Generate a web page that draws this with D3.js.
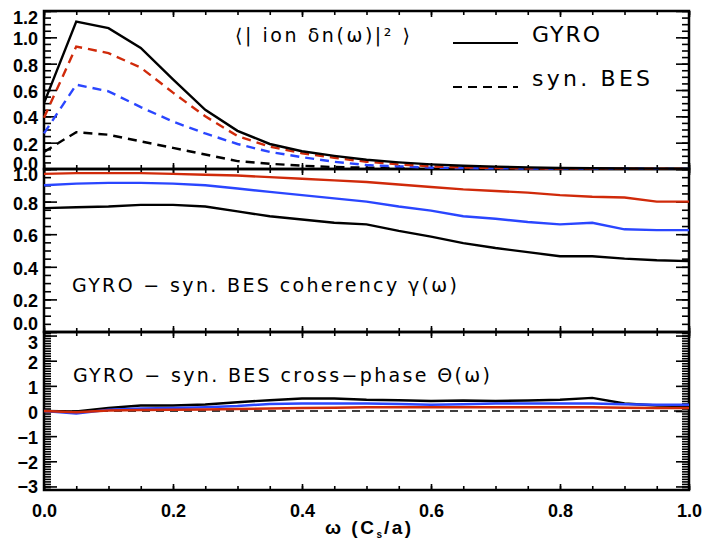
<!DOCTYPE html>
<html>
<head>
<meta charset="utf-8">
<script src="https://cdn.jsdelivr.net/npm/d3@7"></script>
<style>
  body { margin: 0; background: #fff; }
  svg { display: block; }
  .tick text { font-family: "Liberation Sans", Arial, sans-serif; font-weight: bold; font-size: 18px; fill: #000; }
  .ann { font-family: "DejaVu Sans", sans-serif; font-size: 19px; fill: #000; }
</style>
</head>
<body>
<div id="chart"></div>
<script>
// frequency grid (omega in c_s/a)
var omega = [0, 0.05, 0.1, 0.15, 0.2, 0.25, 0.3, 0.35, 0.4, 0.45, 0.5,
             0.55, 0.6, 0.65, 0.7, 0.75, 0.8, 0.85, 0.9, 0.95, 1.0];

// top panel: ion density spectrum
var specGyro     = [0.50, 1.12, 1.07, 0.92, 0.68, 0.45, 0.29, 0.19, 0.135, 0.10, 0.07, 0.05, 0.035, 0.025, 0.018, 0.012, 0.008, 0.006, 0.004, 0.003, 0.002];
var specBesRed   = [0.39, 0.93, 0.88, 0.77, 0.58, 0.40, 0.25, 0.17, 0.12, 0.085, 0.055, 0.035, 0.02, 0.012, 0.008, 0.005, 0.004, 0.003, 0.002, 0.002, 0.001];
var specBesBlue  = [0.27, 0.64, 0.59, 0.47, 0.36, 0.27, 0.19, 0.13, 0.09, 0.055, 0.03, 0.02, 0.01, 0.007, 0.005, 0.004, 0.003, 0.002, 0.002, 0.001, 0.001];
var specBesBlack = [0.13, 0.28, 0.26, 0.21, 0.16, 0.11, 0.06, 0.04, 0.025, 0.015, 0.01, 0.007, 0.005, 0.004, 0.003, 0.002, 0.002, 0.001, 0.001, 0.001, 0.001];

// middle panel: coherency
var cohBlack = [0.76, 0.765, 0.77, 0.78, 0.78, 0.77, 0.74, 0.71, 0.69, 0.67, 0.66, 0.62, 0.585, 0.545, 0.515, 0.49, 0.465, 0.465, 0.45, 0.44, 0.435];
var cohBlue  = [0.90, 0.91, 0.915, 0.915, 0.91, 0.90, 0.88, 0.86, 0.84, 0.82, 0.80, 0.77, 0.745, 0.71, 0.695, 0.675, 0.66, 0.67, 0.63, 0.625, 0.625];
var cohRed   = [0.97, 0.975, 0.975, 0.975, 0.97, 0.965, 0.96, 0.95, 0.94, 0.93, 0.92, 0.905, 0.89, 0.875, 0.865, 0.855, 0.84, 0.83, 0.825, 0.80, 0.80];

// bottom panel: cross-phase
var phBlack = [0.0, -0.02, 0.12, 0.22, 0.22, 0.26, 0.35, 0.43, 0.5, 0.5, 0.45, 0.43, 0.4, 0.42, 0.4, 0.42, 0.45, 0.52, 0.3, 0.22, 0.2];
var phBlue  = [0.0, -0.1, 0.05, 0.1, 0.12, 0.15, 0.2, 0.28, 0.3, 0.3, 0.3, 0.28, 0.25, 0.27, 0.3, 0.3, 0.3, 0.3, 0.27, 0.25, 0.25];
var phRed   = [0.0, -0.05, 0.02, 0.04, 0.05, 0.06, 0.08, 0.1, 0.12, 0.13, 0.15, 0.15, 0.15, 0.15, 0.15, 0.15, 0.15, 0.15, 0.13, 0.12, 0.12];

var xTicks = [0, 0.2, 0.4, 0.6, 0.8, 1.0];
var RED = "#d02a0a", BLUE = "#2a46ff", BLACK = "#000";

var W = 704, H = 545;
var left = 44, right = 689;

var svg = d3.select("#chart").append("svg").attr("width", W).attr("height", H);

var x = d3.scaleLinear().domain([0, 1]).range([left, right]);

// endShift: [bottom label, top label] pixel nudges, like the IDL output
var panels = [
  { top: 11,  bottom: 169, domain: [0, 1.2], major: [0, 0.2, 0.4, 0.6, 0.8, 1.0, 1.2], minorStep: 0.05, fmt: d3.format(".1f"), endShift: [-6, 6] },
  { top: 169, bottom: 332, domain: [0, 1.0], major: [0, 0.2, 0.4, 0.6, 0.8, 1.0], minorStep: 0.05, fmt: d3.format(".1f"), endShift: [-9, 5] },
  { top: 332, bottom: 490, domain: [-Math.PI, Math.PI], major: [-3, -2, -1, 0, 1, 2, 3], minorStep: 0.1, fmt: function(d){ return d < 0 ? "\u2212" + (-d) : "" + d; }, endShift: [0, 6] }
];

function minorTicks(p) {
  var out = [];
  var start = Math.ceil(p.domain[0] / p.minorStep - 1e-9);
  for (var i = start; i * p.minorStep <= p.domain[1] + 1e-9; i++) out.push(+(i * p.minorStep).toFixed(3));
  return out;
}

var xMinor = [];
for (var i = 0; i <= 20; i++) xMinor.push(+(i * 0.05).toFixed(2));

panels.forEach(function(p, k) {
  p.y = d3.scaleLinear().domain(p.domain).range([p.bottom, p.top]);
  var g = svg.append("g");

  // y minor ticks (left, right)
  g.append("g").attr("transform", "translate(" + left + ",0)")
    .call(d3.axisLeft(p.y).tickValues(minorTicks(p)).tickSize(-7).tickFormat(""));
  g.append("g").attr("transform", "translate(" + right + ",0)")
    .call(d3.axisRight(p.y).tickValues(minorTicks(p)).tickSize(-7).tickFormat(""));
  // y major ticks with labels
  var ya = g.append("g").attr("transform", "translate(" + left + ",0)")
    .call(d3.axisLeft(p.y).tickValues(p.major).tickSize(-13).tickFormat(p.fmt));
  ya.selectAll(".tick text").attr("x", -6).attr("dy", "0.36em")
    .attr("y", function(d) {
      if (d === p.major[0]) return p.endShift[0];
      if (d === p.major[p.major.length - 1]) return p.endShift[1];
      return 1;
    });
  g.append("g").attr("transform", "translate(" + right + ",0)")
    .call(d3.axisRight(p.y).tickValues(p.major).tickSize(-13).tickFormat(""));

  // x ticks top and bottom
  g.append("g").attr("transform", "translate(0," + p.top + ")")
    .call(d3.axisTop(x).tickValues(xMinor).tickSize(-4).tickFormat(""));
  g.append("g").attr("transform", "translate(0," + p.bottom + ")")
    .call(d3.axisBottom(x).tickValues(xMinor).tickSize(-4).tickFormat(""));
  g.append("g").attr("transform", "translate(0," + p.top + ")")
    .call(d3.axisTop(x).tickValues(xTicks).tickSize(-6).tickFormat(""));
  var xm = g.append("g").attr("transform", "translate(0," + p.bottom + ")")
    .call(d3.axisBottom(x).tickValues(xTicks).tickSize(-6)
      .tickFormat(k === 2 ? d3.format(".1f") : ""));
  if (k === 2) xm.selectAll(".tick text").attr("y", 14).attr("dy", "0.71em");

  g.selectAll(".domain").remove();
  g.selectAll(".tick line").attr("stroke", "#000").attr("stroke-width", 1.6);

  // frame
  svg.append("rect").attr("x", left).attr("y", p.top)
    .attr("width", right - left).attr("height", p.bottom - p.top)
    .attr("fill", "none").attr("stroke", "#000").attr("stroke-width", 2.5);
});

function drawLine(p, vals, color, dashed) {
  var line = d3.line().x(function(d, i){ return x(omega[i]); }).y(function(d){ return p.y(d); });
  svg.append("path").datum(vals)
    .attr("d", line)
    .attr("fill", "none")
    .attr("stroke", color)
    .attr("stroke-width", 2.4)
    .attr("stroke-dasharray", dashed ? "9,6" : null);
}

// panel 1
drawLine(panels[0], specBesBlack, BLACK, true);
drawLine(panels[0], specBesBlue, BLUE, true);
drawLine(panels[0], specBesRed, RED, true);
drawLine(panels[0], specGyro, BLACK, false);
// panel 2
drawLine(panels[1], cohBlack, BLACK, false);
drawLine(panels[1], cohBlue, BLUE, false);
drawLine(panels[1], cohRed, RED, false);
// panel 3 zero reference
svg.append("line").attr("x1", left).attr("x2", right)
  .attr("y1", panels[2].y(0)).attr("y2", panels[2].y(0))
  .attr("stroke", "#000").attr("stroke-width", 1.6).attr("stroke-dasharray", "8,6");
drawLine(panels[2], phBlack, BLACK, false);
drawLine(panels[2], phBlue, BLUE, false);
drawLine(panels[2], phRed, RED, false);

// annotations (textLength keeps the wide IDL spacing)
function ann(x0, y0, str, len, size) {
  return svg.append("text").attr("class", "ann").attr("x", x0).attr("y", y0)
    .attr("textLength", len).attr("lengthAdjust", "spacing")
    .style("font-size", size + "px")
    .text(str);
}

ann(235, 42, "\u27E8| ion \u03B4n(\u03C9)|\u00B2 \u27E9", 175, 19);

svg.append("line").attr("x1", 453).attr("x2", 518).attr("y1", 43).attr("y2", 43)
  .attr("stroke", "#000").attr("stroke-width", 2);
ann(532, 42, "GYRO", 68, 22);
svg.append("line").attr("x1", 453).attr("x2", 518).attr("y1", 87).attr("y2", 87)
  .attr("stroke", "#000").attr("stroke-width", 2).attr("stroke-dasharray", "9,6");
ann(532, 86, "syn. BES", 118, 22);

ann(72, 292, "GYRO \u2212 syn. BES coherency \u03B3(\u03C9)", 385, 19);
ann(73, 382, "GYRO \u2212 syn. BES cross\u2212phase \u0398(\u03C9)", 417, 19);

var xt = svg.append("text").attr("x", 325).attr("y", 534)
  .style("font-family", "'Liberation Sans', Arial, sans-serif")
  .style("font-weight", "bold").style("font-size", "19px")
  .style("letter-spacing", "2.5px");
xt.append("tspan").text("\u03C9 (C");
xt.append("tspan").attr("dy", 4).style("font-size", "10px").style("letter-spacing", "1px").text("s");
xt.append("tspan").attr("dy", -4).attr("dx", 1).text("/a)");
</script>
</body>
</html>
